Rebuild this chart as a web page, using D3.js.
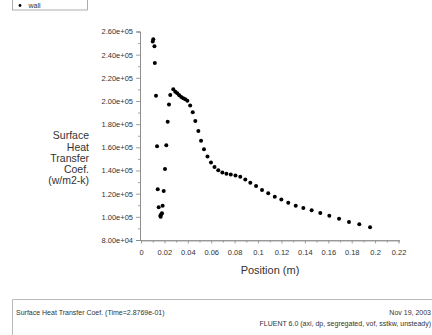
<!DOCTYPE html>
<html>
<head>
<meta charset="utf-8">
<script src="https://cdn.jsdelivr.net/npm/d3@7"></script>
<style>
  html, body { margin: 0; padding: 0; background: #fff; overflow: hidden; }
  svg { display: block; }
  text { font-family: "Liberation Sans Narrow", "Arial Narrow", "Liberation Sans", Arial, sans-serif; fill: #333; }
</style>
</head>
<body>
<script>
// Surface heat transfer coefficient along the wall, h (W/m2-K) vs. position (m)
const positions = [
  0.0100, 0.0105, 0.0115, 0.0118, 0.0128, 0.0137, 0.0143, 0.0151, 0.0165, 0.0168,
  0.0173, 0.0179, 0.0185, 0.0194, 0.0205, 0.0216, 0.0228, 0.0239, 0.0250, 0.0276,
  0.0293, 0.0310, 0.0327, 0.0344, 0.0361, 0.0378, 0.0396, 0.0420, 0.0442, 0.0464,
  0.0490, 0.0513, 0.0538, 0.0568, 0.0598, 0.0628, 0.0660, 0.0695, 0.0730, 0.0767,
  0.0807, 0.0848, 0.0891, 0.0934, 0.0983, 0.1034, 0.1087, 0.1143, 0.1199, 0.1258,
  0.1322, 0.1387, 0.1458, 0.1532, 0.1609, 0.1692, 0.1777, 0.1865, 0.1957
];
const htc = [
  251400, 253300, 247200, 232800, 204600, 160900, 123800, 108200, 101000, 100100,
  102200, 103100, 109600, 122300, 141300, 161800, 182100, 197000, 205200, 210100,
  208000, 206600, 204900, 203500, 202300, 201500, 200300, 196100, 190200, 182700,
  174100, 165700, 158300, 152100, 146900, 143000, 140200, 138300, 137200, 136500,
  135700, 134600, 132200, 129500, 126600, 123200, 120300, 117400, 115000, 112200,
  109600, 107600, 105600, 103300, 101000, 98400, 95500, 93600, 91000
];
const yTicks = [80000, 100000, 120000, 140000, 160000, 180000, 200000, 220000, 240000, 260000];
const xTicks = [0, 0.02, 0.04, 0.06, 0.08, 0.1, 0.12, 0.14, 0.16, 0.18, 0.2, 0.22];
const yTitleLines = ["Surface", "Heat", "Transfer", "Coef.", "(w/m2-k)"];
const xTitle = "Position (m)";
const legendLabel = "wall";
const footerLeft = "Surface Heat Transfer Coef.  (Time=2.8769e-01)";
const footerRight = ["Nov 19, 2003", "FLUENT 6.0 (axi, dp, segregated, vof, sstkw, unsteady)"];

const W = 432, H = 335;
const svg = d3.select("body").append("svg").attr("width", W).attr("height", H);

const x = d3.scaleLinear().domain([0, 0.22]).range([141, 398.5]);
const y = d3.scaleLinear().domain([80000, 260000]).range([240, 31.5]);

const axisColor = "#8a8a8a";
const expFmt = v => {
  const s = d3.format(".2e")(v);           // e.g. 2.60e+5
  return s.replace(/e([+-])(\d)$/, "e$10$2");
};

// Y axis
const yAxis = svg.append("g").attr("transform", `translate(${x.range()[0] - 1},0)`);
yAxis.call(d3.axisLeft(y).tickValues(yTicks).tickFormat(expFmt).tickSize(4).tickPadding(3));
yAxis.append("g").call(d3.axisLeft(y).tickValues(d3.range(90000, 260000, 20000)).tickFormat("").tickSize(2));
yAxis.selectAll(".domain").attr("stroke", axisColor).attr("stroke-width", 0.8);
yAxis.selectAll(".tick line").attr("stroke", axisColor).attr("stroke-width", 0.8);
yAxis.selectAll(".tick text").style("font-size", "7.5px").attr("fill", "#333");

// X axis
const xAxis = svg.append("g").attr("transform", `translate(0,${y.range()[0] + 0.5})`);
xAxis.call(d3.axisBottom(x).tickValues(xTicks).tickFormat(d3.format("~g")).tickSize(3).tickPadding(6));
xAxis.append("g").call(d3.axisBottom(x).tickValues(d3.range(0.01, 0.22, 0.02)).tickFormat("").tickSize(2));
xAxis.selectAll(".domain").attr("stroke", axisColor).attr("stroke-width", 0.8);
xAxis.selectAll(".tick line").attr("stroke", axisColor).attr("stroke-width", 0.8);
xAxis.selectAll(".tick text").style("font-size", "7.5px").attr("fill", "#333");
xAxis.select(".domain").attr("d", `M${x.range()[0] - 1},0H${x(0.22) + 1.5}`);

// Axis titles
svg.append("text")
  .attr("x", 270).attr("y", 274)
  .attr("text-anchor", "middle")
  .style("font-size", "11px")
  .text(xTitle);

svg.append("g").selectAll("text").data(yTitleLines).join("text")
  .attr("x", 89).attr("y", (d, i) => 139.3 + i * 11.2)
  .attr("text-anchor", "end")
  .style("font-size", "10.5px")
  .text(d => d);

// Data points
svg.append("g").selectAll("circle").data(positions).join("circle")
  .attr("cx", (d, i) => x(d))
  .attr("cy", (d, i) => y(htc[i]))
  .attr("r", 2)
  .attr("fill", "#000");

// Legend box
svg.append("rect")
  .attr("x", 12.5).attr("y", -5).attr("width", 75).attr("height", 15)
  .attr("fill", "none").attr("stroke", "#999").attr("stroke-width", 0.8);
svg.append("circle").attr("cx", 20).attr("cy", 5.5).attr("r", 1.4).attr("fill", "#000");
svg.append("text").attr("x", 28.5).attr("y", 8.3).style("font-size", "7px").text(legendLabel);

// Footer frame and captions
svg.append("path")
  .attr("d", `M12.5,${H}V299.5H${W}`)
  .attr("fill", "none").attr("stroke", "#aaa").attr("stroke-width", 0.8);
svg.append("text").attr("x", 16).attr("y", 314.5).style("font-size", "7px").text(footerLeft);
svg.append("g").selectAll("text").data(footerRight).join("text")
  .attr("x", 431)
  .attr("y", (d, i) => 314.5 + i * 11.5)
  .attr("text-anchor", "end")
  .style("font-size", "7px")
  .text(d => d);
</script>
</body>
</html>
